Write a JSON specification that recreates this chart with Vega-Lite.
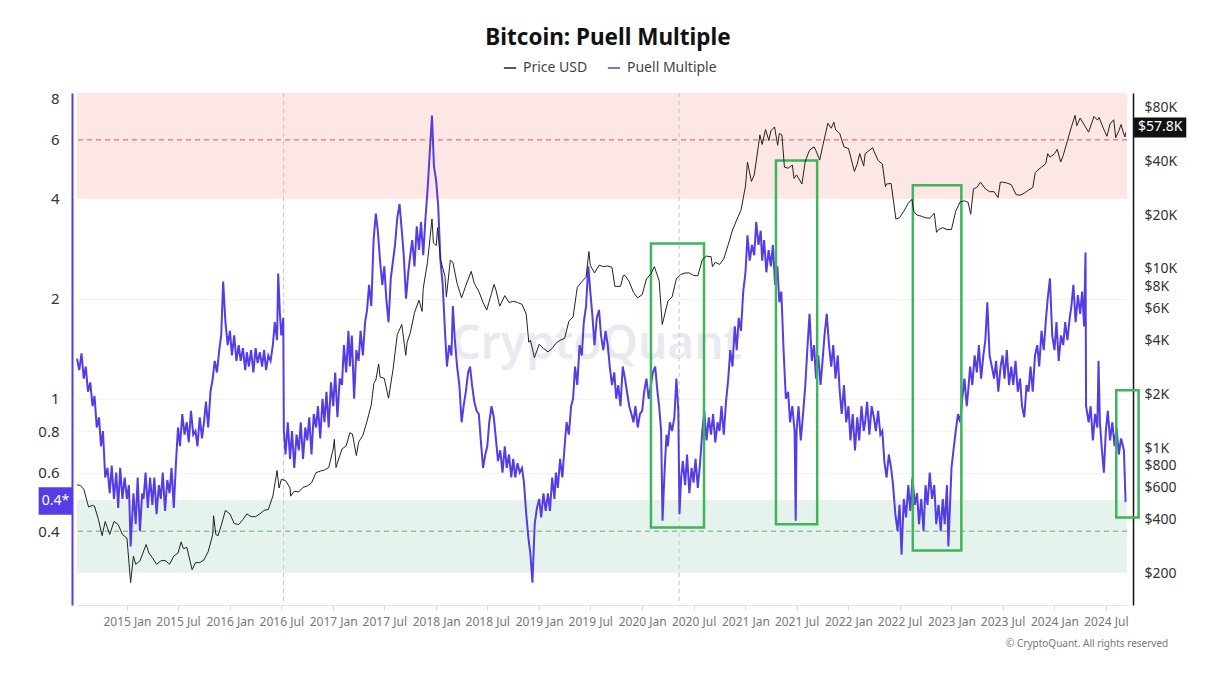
{
"$schema":"https://vega.github.io/schema/vega-lite/v6.json",
"width":1050,"height":512,
"autosize":{"type":"none"},
"padding":{"left":77,"top":93,"right":88,"bottom":74},
"background":"white",
"title":{"text":"Bitcoin: Puell Multiple","fontSize":22.5,"fontWeight":"bold","font":"Noto Sans","color":"#111111","offset":12,"dx":6},
"config":{"font":"Noto Sans","view":{"stroke":null}},
"datasets":{
"puell":[
{"d":"2014-07-08","v":1.32},{"d":"2014-07-16","v":1.22},{"d":"2014-07-24","v":1.37},
{"d":"2014-08-01","v":1.15},{"d":"2014-08-08","v":1.25},{"d":"2014-08-16","v":1.05},{"d":"2014-08-24","v":1.12},
{"d":"2014-09-01","v":0.95},{"d":"2014-09-08","v":1.02},{"d":"2014-09-16","v":0.82},{"d":"2014-09-24","v":0.88},
{"d":"2014-10-01","v":0.72},{"d":"2014-10-08","v":0.80},{"d":"2014-10-16","v":0.58},{"d":"2014-10-24","v":0.62},
{"d":"2014-11-01","v":0.52},{"d":"2014-11-08","v":0.63},{"d":"2014-11-16","v":0.50},{"d":"2014-11-24","v":0.60},
{"d":"2014-12-01","v":0.47},{"d":"2014-12-08","v":0.62},{"d":"2014-12-16","v":0.50},{"d":"2014-12-24","v":0.58},
{"d":"2015-01-01","v":0.50},{"d":"2015-01-08","v":0.55},{"d":"2015-01-14","v":0.36},{"d":"2015-01-24","v":0.52},
{"d":"2015-02-01","v":0.42},{"d":"2015-02-08","v":0.58},{"d":"2015-02-16","v":0.40},{"d":"2015-02-24","v":0.52},
{"d":"2015-03-01","v":0.50},{"d":"2015-03-08","v":0.60},{"d":"2015-03-16","v":0.47},{"d":"2015-03-24","v":0.58},
{"d":"2015-04-01","v":0.48},{"d":"2015-04-08","v":0.58},{"d":"2015-04-16","v":0.45},{"d":"2015-04-24","v":0.55},
{"d":"2015-05-01","v":0.50},{"d":"2015-05-08","v":0.60},{"d":"2015-05-16","v":0.46},{"d":"2015-05-24","v":0.57},
{"d":"2015-06-01","v":0.52},{"d":"2015-06-08","v":0.62},{"d":"2015-06-16","v":0.47},{"d":"2015-06-24","v":0.65},
{"d":"2015-07-01","v":0.82},{"d":"2015-07-08","v":0.72},{"d":"2015-07-16","v":0.90},{"d":"2015-07-24","v":0.78},
{"d":"2015-08-01","v":0.85},{"d":"2015-08-08","v":0.74},{"d":"2015-08-16","v":0.92},{"d":"2015-08-24","v":0.78},
{"d":"2015-09-01","v":0.80},{"d":"2015-09-08","v":0.72},{"d":"2015-09-16","v":0.88},{"d":"2015-09-24","v":0.76},
{"d":"2015-10-01","v":0.85},{"d":"2015-10-08","v":0.98},{"d":"2015-10-16","v":0.82},{"d":"2015-10-24","v":1.05},
{"d":"2015-11-01","v":1.15},{"d":"2015-11-08","v":1.30},{"d":"2015-11-16","v":1.20},{"d":"2015-11-24","v":1.40},
{"d":"2015-12-01","v":1.55},{"d":"2015-12-08","v":2.25},{"d":"2015-12-16","v":1.70},{"d":"2015-12-24","v":1.45},
{"d":"2016-01-01","v":1.60},{"d":"2016-01-08","v":1.35},{"d":"2016-01-16","v":1.55},{"d":"2016-01-24","v":1.30},
{"d":"2016-02-01","v":1.45},{"d":"2016-02-08","v":1.30},{"d":"2016-02-16","v":1.42},{"d":"2016-02-24","v":1.22},
{"d":"2016-03-01","v":1.38},{"d":"2016-03-08","v":1.25},{"d":"2016-03-16","v":1.40},{"d":"2016-03-24","v":1.20},
{"d":"2016-04-01","v":1.42},{"d":"2016-04-08","v":1.28},{"d":"2016-04-16","v":1.38},{"d":"2016-04-24","v":1.25},
{"d":"2016-05-01","v":1.40},{"d":"2016-05-08","v":1.22},{"d":"2016-05-16","v":1.35},{"d":"2016-05-24","v":1.30},
{"d":"2016-06-01","v":1.45},{"d":"2016-06-08","v":1.70},{"d":"2016-06-16","v":1.50},{"d":"2016-06-20","v":2.38},{"d":"2016-06-26","v":1.80},
{"d":"2016-07-01","v":1.55},{"d":"2016-07-08","v":1.75},{"d":"2016-07-10","v":0.80},{"d":"2016-07-16","v":0.68},{"d":"2016-07-24","v":0.85},
{"d":"2016-08-01","v":0.66},{"d":"2016-08-08","v":0.80},{"d":"2016-08-16","v":0.62},{"d":"2016-08-24","v":0.78},
{"d":"2016-09-01","v":0.70},{"d":"2016-09-08","v":0.85},{"d":"2016-09-16","v":0.66},{"d":"2016-09-24","v":0.82},
{"d":"2016-10-01","v":0.75},{"d":"2016-10-08","v":0.88},{"d":"2016-10-16","v":0.68},{"d":"2016-10-24","v":0.90},
{"d":"2016-11-01","v":0.82},{"d":"2016-11-08","v":0.95},{"d":"2016-11-16","v":0.76},{"d":"2016-11-24","v":1.00},
{"d":"2016-12-01","v":0.85},{"d":"2016-12-08","v":1.05},{"d":"2016-12-16","v":0.82},{"d":"2016-12-24","v":1.12},
{"d":"2017-01-01","v":0.95},{"d":"2017-01-08","v":1.20},{"d":"2017-01-16","v":0.88},{"d":"2017-01-24","v":1.15},
{"d":"2017-02-01","v":1.10},{"d":"2017-02-08","v":1.45},{"d":"2017-02-16","v":1.20},{"d":"2017-02-24","v":1.60},
{"d":"2017-03-01","v":1.25},{"d":"2017-03-08","v":1.55},{"d":"2017-03-16","v":1.00},{"d":"2017-03-24","v":1.40},
{"d":"2017-04-01","v":1.30},{"d":"2017-04-08","v":1.60},{"d":"2017-04-16","v":1.35},{"d":"2017-04-24","v":1.70},
{"d":"2017-05-01","v":1.85},{"d":"2017-05-08","v":2.20},{"d":"2017-05-16","v":1.90},{"d":"2017-05-24","v":3.00},
{"d":"2017-06-01","v":3.60},{"d":"2017-06-08","v":3.20},{"d":"2017-06-16","v":2.60},{"d":"2017-06-24","v":2.20},
{"d":"2017-07-01","v":2.50},{"d":"2017-07-08","v":2.00},{"d":"2017-07-16","v":1.70},{"d":"2017-07-24","v":2.30},
{"d":"2017-08-01","v":2.60},{"d":"2017-08-08","v":2.90},{"d":"2017-08-16","v":3.50},{"d":"2017-08-24","v":3.85},
{"d":"2017-09-01","v":3.20},{"d":"2017-09-08","v":2.70},{"d":"2017-09-16","v":2.00},{"d":"2017-09-24","v":2.40},
{"d":"2017-10-01","v":2.70},{"d":"2017-10-08","v":3.00},{"d":"2017-10-16","v":2.50},{"d":"2017-10-24","v":3.30},
{"d":"2017-11-01","v":2.80},{"d":"2017-11-08","v":3.40},{"d":"2017-11-16","v":2.70},{"d":"2017-11-24","v":3.50},
{"d":"2017-12-01","v":4.20},{"d":"2017-12-08","v":5.30},{"d":"2017-12-17","v":7.10},{"d":"2017-12-24","v":5.00},
{"d":"2018-01-01","v":4.50},{"d":"2018-01-08","v":3.80},{"d":"2018-01-16","v":2.60},{"d":"2018-01-24","v":2.20},
{"d":"2018-02-01","v":1.60},{"d":"2018-02-08","v":1.25},{"d":"2018-02-16","v":1.45},{"d":"2018-02-24","v":1.35},
{"d":"2018-03-01","v":1.90},{"d":"2018-03-08","v":1.50},{"d":"2018-03-16","v":1.25},{"d":"2018-03-24","v":1.10},
{"d":"2018-04-01","v":0.85},{"d":"2018-04-08","v":0.95},{"d":"2018-04-16","v":1.05},{"d":"2018-04-24","v":1.20},
{"d":"2018-05-01","v":1.25},{"d":"2018-05-08","v":1.10},{"d":"2018-05-16","v":0.98},{"d":"2018-05-24","v":0.92},
{"d":"2018-06-01","v":0.90},{"d":"2018-06-08","v":0.75},{"d":"2018-06-16","v":0.62},{"d":"2018-06-24","v":0.68},
{"d":"2018-07-01","v":0.72},{"d":"2018-07-08","v":0.85},{"d":"2018-07-16","v":0.95},{"d":"2018-07-24","v":0.88},
{"d":"2018-08-01","v":0.75},{"d":"2018-08-08","v":0.65},{"d":"2018-08-16","v":0.70},{"d":"2018-08-24","v":0.60},
{"d":"2018-09-01","v":0.72},{"d":"2018-09-08","v":0.62},{"d":"2018-09-16","v":0.68},{"d":"2018-09-24","v":0.58},
{"d":"2018-10-01","v":0.66},{"d":"2018-10-08","v":0.58},{"d":"2018-10-16","v":0.64},{"d":"2018-10-24","v":0.60},
{"d":"2018-11-01","v":0.62},{"d":"2018-11-08","v":0.56},{"d":"2018-11-16","v":0.45},{"d":"2018-11-24","v":0.38},
{"d":"2018-12-01","v":0.34},{"d":"2018-12-08","v":0.28},{"d":"2018-12-16","v":0.42},{"d":"2018-12-24","v":0.47},
{"d":"2019-01-01","v":0.50},{"d":"2019-01-08","v":0.44},{"d":"2019-01-16","v":0.52},{"d":"2019-01-24","v":0.46},
{"d":"2019-02-01","v":0.52},{"d":"2019-02-08","v":0.46},{"d":"2019-02-16","v":0.58},{"d":"2019-02-24","v":0.50},
{"d":"2019-03-01","v":0.60},{"d":"2019-03-08","v":0.54},{"d":"2019-03-16","v":0.66},{"d":"2019-03-24","v":0.58},
{"d":"2019-04-01","v":0.72},{"d":"2019-04-08","v":0.85},{"d":"2019-04-16","v":0.78},{"d":"2019-04-24","v":0.95},
{"d":"2019-05-01","v":1.00},{"d":"2019-05-08","v":1.25},{"d":"2019-05-16","v":1.10},{"d":"2019-05-24","v":1.45},
{"d":"2019-06-01","v":1.35},{"d":"2019-06-08","v":1.70},{"d":"2019-06-16","v":1.90},{"d":"2019-06-24","v":2.50},
{"d":"2019-07-01","v":2.10},{"d":"2019-07-08","v":1.80},{"d":"2019-07-16","v":1.45},{"d":"2019-07-24","v":1.75},
{"d":"2019-08-01","v":1.85},{"d":"2019-08-08","v":1.55},{"d":"2019-08-16","v":1.40},{"d":"2019-08-24","v":1.60},
{"d":"2019-09-01","v":1.45},{"d":"2019-09-08","v":1.25},{"d":"2019-09-16","v":1.10},{"d":"2019-09-24","v":1.20},
{"d":"2019-10-01","v":1.00},{"d":"2019-10-08","v":1.10},{"d":"2019-10-16","v":0.95},{"d":"2019-10-24","v":1.25},
{"d":"2019-11-01","v":1.15},{"d":"2019-11-08","v":1.05},{"d":"2019-11-16","v":0.95},{"d":"2019-11-24","v":0.90},
{"d":"2019-12-01","v":0.85},{"d":"2019-12-08","v":0.95},{"d":"2019-12-16","v":0.82},{"d":"2019-12-24","v":0.90},
{"d":"2020-01-01","v":0.92},{"d":"2020-01-08","v":1.05},{"d":"2020-01-16","v":1.15},{"d":"2020-01-24","v":1.00},
{"d":"2020-02-01","v":1.10},{"d":"2020-02-08","v":1.20},{"d":"2020-02-16","v":1.25},{"d":"2020-02-24","v":1.05},
{"d":"2020-03-01","v":0.95},{"d":"2020-03-08","v":0.80},{"d":"2020-03-13","v":0.43},{"d":"2020-03-20","v":0.60},{"d":"2020-03-27","v":0.78},
{"d":"2020-04-01","v":0.72},{"d":"2020-04-08","v":0.85},{"d":"2020-04-16","v":0.80},{"d":"2020-04-24","v":0.88},
{"d":"2020-05-01","v":1.15},{"d":"2020-05-08","v":0.92},{"d":"2020-05-12","v":0.45},{"d":"2020-05-18","v":0.58},{"d":"2020-05-24","v":0.65},
{"d":"2020-06-01","v":0.55},{"d":"2020-06-08","v":0.68},{"d":"2020-06-16","v":0.52},{"d":"2020-06-24","v":0.62},
{"d":"2020-07-01","v":0.56},{"d":"2020-07-08","v":0.66},{"d":"2020-07-16","v":0.54},{"d":"2020-07-24","v":0.64},
{"d":"2020-08-01","v":0.80},{"d":"2020-08-08","v":0.92},{"d":"2020-08-16","v":0.75},{"d":"2020-08-24","v":0.88},
{"d":"2020-09-01","v":0.78},{"d":"2020-09-08","v":0.90},{"d":"2020-09-16","v":0.74},{"d":"2020-09-24","v":0.85},
{"d":"2020-10-01","v":0.80},{"d":"2020-10-08","v":0.95},{"d":"2020-10-16","v":0.78},{"d":"2020-10-24","v":0.98},
{"d":"2020-11-01","v":1.15},{"d":"2020-11-08","v":1.40},{"d":"2020-11-16","v":1.25},{"d":"2020-11-24","v":1.65},
{"d":"2020-12-01","v":1.40},{"d":"2020-12-08","v":1.75},{"d":"2020-12-16","v":1.60},{"d":"2020-12-24","v":2.10},
{"d":"2021-01-01","v":2.40},{"d":"2021-01-08","v":3.10},{"d":"2021-01-16","v":2.60},{"d":"2021-01-24","v":2.90},
{"d":"2021-02-01","v":2.70},{"d":"2021-02-08","v":3.40},{"d":"2021-02-16","v":2.90},{"d":"2021-02-24","v":3.20},
{"d":"2021-03-01","v":2.60},{"d":"2021-03-08","v":3.00},{"d":"2021-03-16","v":2.40},{"d":"2021-03-24","v":2.80},
{"d":"2021-04-01","v":2.50},{"d":"2021-04-08","v":2.90},{"d":"2021-04-16","v":2.20},{"d":"2021-04-24","v":2.50},
{"d":"2021-05-01","v":1.95},{"d":"2021-05-08","v":2.10},{"d":"2021-05-16","v":1.40},{"d":"2021-05-24","v":1.00},
{"d":"2021-06-01","v":1.05},{"d":"2021-06-08","v":0.85},{"d":"2021-06-16","v":0.95},{"d":"2021-06-24","v":0.80},{"d":"2021-06-28","v":0.43},
{"d":"2021-07-01","v":0.80},{"d":"2021-07-08","v":0.95},{"d":"2021-07-16","v":0.75},{"d":"2021-07-24","v":0.90},
{"d":"2021-08-01","v":1.10},{"d":"2021-08-08","v":1.40},{"d":"2021-08-16","v":1.80},{"d":"2021-08-24","v":1.30},
{"d":"2021-09-01","v":1.45},{"d":"2021-09-08","v":1.15},{"d":"2021-09-16","v":1.35},{"d":"2021-09-24","v":1.10},
{"d":"2021-10-01","v":1.30},{"d":"2021-10-08","v":1.55},{"d":"2021-10-16","v":1.80},{"d":"2021-10-24","v":1.45},
{"d":"2021-11-01","v":1.25},{"d":"2021-11-08","v":1.45},{"d":"2021-11-16","v":1.15},{"d":"2021-11-24","v":1.35},
{"d":"2021-12-01","v":1.05},{"d":"2021-12-08","v":0.90},{"d":"2021-12-16","v":1.10},{"d":"2021-12-24","v":0.85},
{"d":"2022-01-01","v":0.95},{"d":"2022-01-08","v":0.75},{"d":"2022-01-16","v":0.90},{"d":"2022-01-24","v":0.70},
{"d":"2022-02-01","v":0.88},{"d":"2022-02-08","v":0.75},{"d":"2022-02-16","v":0.95},{"d":"2022-02-24","v":0.80},
{"d":"2022-03-01","v":0.85},{"d":"2022-03-08","v":0.98},{"d":"2022-03-16","v":0.78},{"d":"2022-03-24","v":0.95},
{"d":"2022-04-01","v":0.88},{"d":"2022-04-08","v":0.80},{"d":"2022-04-16","v":0.92},{"d":"2022-04-24","v":0.78},
{"d":"2022-05-01","v":0.80},{"d":"2022-05-08","v":0.65},{"d":"2022-05-16","v":0.58},{"d":"2022-05-24","v":0.68},
{"d":"2022-06-01","v":0.62},{"d":"2022-06-08","v":0.55},{"d":"2022-06-16","v":0.45},{"d":"2022-06-24","v":0.40},
{"d":"2022-07-01","v":0.48},{"d":"2022-07-08","v":0.34},{"d":"2022-07-16","v":0.50},{"d":"2022-07-24","v":0.44},
{"d":"2022-08-01","v":0.55},{"d":"2022-08-08","v":0.46},{"d":"2022-08-16","v":0.58},{"d":"2022-08-24","v":0.48},
{"d":"2022-09-01","v":0.52},{"d":"2022-09-08","v":0.42},{"d":"2022-09-16","v":0.50},{"d":"2022-09-24","v":0.40},
{"d":"2022-10-01","v":0.55},{"d":"2022-10-08","v":0.48},{"d":"2022-10-16","v":0.60},{"d":"2022-10-24","v":0.50},
{"d":"2022-11-01","v":0.55},{"d":"2022-11-08","v":0.42},{"d":"2022-11-16","v":0.48},{"d":"2022-11-24","v":0.40},
{"d":"2022-12-01","v":0.50},{"d":"2022-12-08","v":0.42},{"d":"2022-12-16","v":0.55},{"d":"2022-12-21","v":0.36},
{"d":"2023-01-01","v":0.62},{"d":"2023-01-08","v":0.70},{"d":"2023-01-16","v":0.80},{"d":"2023-01-24","v":0.90},
{"d":"2023-02-01","v":0.85},{"d":"2023-02-08","v":1.00},{"d":"2023-02-16","v":1.15},{"d":"2023-02-24","v":0.95},
{"d":"2023-03-01","v":1.05},{"d":"2023-03-08","v":1.25},{"d":"2023-03-16","v":1.10},{"d":"2023-03-24","v":1.35},
{"d":"2023-04-01","v":1.20},{"d":"2023-04-08","v":1.45},{"d":"2023-04-16","v":1.15},{"d":"2023-04-24","v":1.35},
{"d":"2023-05-01","v":1.50},{"d":"2023-05-08","v":1.95},{"d":"2023-05-16","v":1.35},{"d":"2023-05-24","v":1.25},
{"d":"2023-06-01","v":1.15},{"d":"2023-06-08","v":1.30},{"d":"2023-06-16","v":1.05},{"d":"2023-06-24","v":1.25},
{"d":"2023-07-01","v":1.35},{"d":"2023-07-08","v":1.15},{"d":"2023-07-16","v":1.40},{"d":"2023-07-24","v":1.10},
{"d":"2023-08-01","v":1.25},{"d":"2023-08-08","v":1.10},{"d":"2023-08-16","v":1.30},{"d":"2023-08-24","v":1.05},
{"d":"2023-09-01","v":1.15},{"d":"2023-09-08","v":0.95},{"d":"2023-09-16","v":0.88},{"d":"2023-09-24","v":1.10},
{"d":"2023-10-01","v":1.05},{"d":"2023-10-08","v":1.25},{"d":"2023-10-16","v":1.05},{"d":"2023-10-24","v":1.35},
{"d":"2023-11-01","v":1.45},{"d":"2023-11-08","v":1.25},{"d":"2023-11-16","v":1.60},{"d":"2023-11-24","v":1.40},
{"d":"2023-12-01","v":1.70},{"d":"2023-12-08","v":2.00},{"d":"2023-12-16","v":2.30},{"d":"2023-12-24","v":1.55},
{"d":"2024-01-01","v":1.40},{"d":"2024-01-08","v":1.70},{"d":"2024-01-16","v":1.30},{"d":"2024-01-24","v":1.55},
{"d":"2024-02-01","v":1.45},{"d":"2024-02-08","v":1.70},{"d":"2024-02-16","v":1.50},{"d":"2024-02-24","v":1.75},
{"d":"2024-03-01","v":1.90},{"d":"2024-03-08","v":2.20},{"d":"2024-03-16","v":1.70},{"d":"2024-03-24","v":2.05},
{"d":"2024-04-01","v":1.80},{"d":"2024-04-08","v":2.10},{"d":"2024-04-15","v":1.65},{"d":"2024-04-20","v":2.75},{"d":"2024-04-22","v":0.95},
{"d":"2024-05-01","v":0.85},{"d":"2024-05-08","v":0.95},{"d":"2024-05-16","v":0.75},{"d":"2024-05-24","v":0.90},
{"d":"2024-06-01","v":0.82},{"d":"2024-06-05","v":1.30},{"d":"2024-06-10","v":0.85},{"d":"2024-06-16","v":0.72},{"d":"2024-06-24","v":0.60},
{"d":"2024-07-01","v":0.80},{"d":"2024-07-08","v":0.92},{"d":"2024-07-16","v":0.75},{"d":"2024-07-24","v":0.85},
{"d":"2024-08-01","v":0.72},{"d":"2024-08-08","v":0.82},{"d":"2024-08-16","v":0.68},{"d":"2024-08-24","v":0.76},
{"d":"2024-09-03","v":0.70},{"d":"2024-09-09","v":0.49}
],
"price":[
{"d":"2014-07-08","p":625},{"d":"2014-07-20","p":620},{"d":"2014-08-01","p":590},{"d":"2014-08-18","p":470},{"d":"2014-09-01","p":480},{"d":"2014-09-08","p":475},{"d":"2014-09-22","p":400},{"d":"2014-10-05","p":325},{"d":"2014-10-16","p":390},{"d":"2014-11-01","p":330},{"d":"2014-11-16","p":390},{"d":"2014-12-01","p":375},{"d":"2014-12-16","p":330},
{"d":"2015-01-01","p":315},{"d":"2015-01-14","p":178},{"d":"2015-01-24","p":250},{"d":"2015-02-01","p":225},{"d":"2015-02-16","p":235},{"d":"2015-03-10","p":290},{"d":"2015-03-20","p":260},{"d":"2015-04-01","p":245},{"d":"2015-04-16","p":225},{"d":"2015-05-01","p":235},{"d":"2015-05-16","p":237},{"d":"2015-06-01","p":225},{"d":"2015-06-16","p":250},{"d":"2015-07-01","p":260},{"d":"2015-07-12","p":300},{"d":"2015-07-20","p":275},{"d":"2015-08-01","p":280},{"d":"2015-08-20","p":210},{"d":"2015-09-01","p":230},{"d":"2015-09-16","p":230},{"d":"2015-10-01","p":238},{"d":"2015-10-16","p":265},{"d":"2015-11-01","p":330},{"d":"2015-11-04","p":420},{"d":"2015-11-12","p":330},{"d":"2015-11-20","p":325},{"d":"2015-12-01","p":370},{"d":"2015-12-16","p":450},
{"d":"2016-01-01","p":430},{"d":"2016-01-16","p":380},{"d":"2016-02-01","p":375},{"d":"2016-02-16","p":400},{"d":"2016-03-01","p":430},{"d":"2016-03-16","p":415},{"d":"2016-04-01","p":415},{"d":"2016-04-16","p":430},{"d":"2016-05-01","p":450},{"d":"2016-05-16","p":455},{"d":"2016-06-01","p":540},{"d":"2016-06-16","p":750},{"d":"2016-06-23","p":600},{"d":"2016-07-01","p":670},{"d":"2016-07-16","p":660},{"d":"2016-08-01","p":600},{"d":"2016-08-03","p":540},{"d":"2016-08-16","p":575},{"d":"2016-09-01","p":570},{"d":"2016-09-16","p":605},{"d":"2016-10-01","p":615},{"d":"2016-10-16","p":640},{"d":"2016-11-01","p":730},{"d":"2016-11-16","p":745},{"d":"2016-12-01","p":755},{"d":"2016-12-16","p":780},
{"d":"2017-01-01","p":990},{"d":"2017-01-05","p":1120},{"d":"2017-01-11","p":780},{"d":"2017-01-16","p":830},{"d":"2017-02-01","p":990},{"d":"2017-02-16","p":1030},{"d":"2017-03-01","p":1220},{"d":"2017-03-10","p":1200},{"d":"2017-03-24","p":910},{"d":"2017-04-01","p":1080},{"d":"2017-04-16","p":1180},{"d":"2017-05-01","p":1420},{"d":"2017-05-16","p":1750},{"d":"2017-05-25","p":2300},{"d":"2017-06-01","p":2400},{"d":"2017-06-11","p":2950},{"d":"2017-06-16","p":2500},{"d":"2017-07-01","p":2450},{"d":"2017-07-16","p":1900},{"d":"2017-08-01","p":2750},{"d":"2017-08-16","p":4300},{"d":"2017-09-01","p":4900},{"d":"2017-09-15","p":3300},{"d":"2017-09-20","p":3900},{"d":"2017-10-01","p":4400},{"d":"2017-10-16","p":5700},{"d":"2017-11-01","p":6700},{"d":"2017-11-12","p":5800},{"d":"2017-11-16","p":7800},{"d":"2017-12-01","p":10900},{"d":"2017-12-17","p":19000},{"d":"2017-12-22","p":14000},
{"d":"2018-01-01","p":13500},{"d":"2018-01-06","p":17000},{"d":"2018-01-16","p":11300},{"d":"2018-02-01","p":9100},{"d":"2018-02-06","p":7000},{"d":"2018-02-20","p":11200},{"d":"2018-03-01","p":10900},{"d":"2018-03-16","p":8300},{"d":"2018-04-01","p":6900},{"d":"2018-04-16","p":8100},{"d":"2018-05-05","p":9700},{"d":"2018-05-16","p":8300},{"d":"2018-06-01","p":7500},{"d":"2018-06-16","p":6500},{"d":"2018-06-29","p":5900},{"d":"2018-07-16","p":7300},{"d":"2018-07-25","p":8200},{"d":"2018-08-01","p":7600},{"d":"2018-08-14","p":6200},{"d":"2018-09-01","p":7100},{"d":"2018-09-16","p":6500},{"d":"2018-10-01","p":6600},{"d":"2018-10-16","p":6500},{"d":"2018-11-01","p":6350},{"d":"2018-11-16","p":5600},{"d":"2018-11-25","p":3900},{"d":"2018-12-01","p":4000},{"d":"2018-12-15","p":3200},
{"d":"2019-01-01","p":3800},{"d":"2019-01-16","p":3600},{"d":"2019-02-01","p":3450},{"d":"2019-02-16","p":3600},{"d":"2019-03-01","p":3850},{"d":"2019-03-16","p":4000},{"d":"2019-04-01","p":4100},{"d":"2019-04-16","p":5100},{"d":"2019-05-01","p":5400},{"d":"2019-05-16","p":7900},{"d":"2019-06-01","p":8500},{"d":"2019-06-16","p":9000},{"d":"2019-06-26","p":12500},{"d":"2019-07-01","p":10500},{"d":"2019-07-16","p":9500},{"d":"2019-08-01","p":10500},{"d":"2019-08-16","p":10300},{"d":"2019-09-01","p":10400},{"d":"2019-09-16","p":10200},{"d":"2019-09-26","p":8000},{"d":"2019-10-16","p":8000},{"d":"2019-10-26","p":9200},{"d":"2019-11-01","p":9200},{"d":"2019-11-16","p":8500},{"d":"2019-12-01","p":7400},{"d":"2019-12-16","p":6900},
{"d":"2020-01-01","p":7200},{"d":"2020-01-16","p":8800},{"d":"2020-02-01","p":9400},{"d":"2020-02-13","p":10300},{"d":"2020-03-01","p":8600},{"d":"2020-03-12","p":4900},{"d":"2020-03-16","p":5200},{"d":"2020-04-01","p":6600},{"d":"2020-04-16","p":7000},{"d":"2020-05-01","p":8800},{"d":"2020-05-16","p":9300},{"d":"2020-06-01","p":9500},{"d":"2020-06-16","p":9500},{"d":"2020-07-01","p":9200},{"d":"2020-07-16","p":9150},{"d":"2020-08-01","p":11300},{"d":"2020-08-16","p":11800},{"d":"2020-09-01","p":11700},{"d":"2020-09-06","p":10300},{"d":"2020-09-16","p":10900},{"d":"2020-10-01","p":10600},{"d":"2020-10-16","p":11400},{"d":"2020-11-01","p":13700},{"d":"2020-11-16","p":16500},{"d":"2020-12-01","p":18800},{"d":"2020-12-16","p":21300},
{"d":"2021-01-01","p":29000},{"d":"2021-01-08","p":39500},{"d":"2021-01-22","p":30800},{"d":"2021-02-01","p":33500},{"d":"2021-02-16","p":49000},{"d":"2021-02-21","p":56000},{"d":"2021-03-01","p":49500},{"d":"2021-03-13","p":60000},{"d":"2021-03-25","p":52000},{"d":"2021-04-01","p":59000},{"d":"2021-04-14","p":62000},{"d":"2021-04-25","p":49000},{"d":"2021-05-01","p":57000},{"d":"2021-05-10","p":56000},{"d":"2021-05-19","p":37000},{"d":"2021-06-01","p":36500},{"d":"2021-06-16","p":38000},{"d":"2021-06-22","p":32000},{"d":"2021-07-01","p":33500},{"d":"2021-07-20","p":29800},{"d":"2021-08-01","p":40000},{"d":"2021-08-16","p":46000},{"d":"2021-09-01","p":48000},{"d":"2021-09-07","p":46000},{"d":"2021-09-21","p":40500},{"d":"2021-10-01","p":48000},{"d":"2021-10-20","p":65000},{"d":"2021-11-01","p":61000},{"d":"2021-11-10","p":66000},{"d":"2021-11-16","p":60000},{"d":"2021-12-01","p":57000},{"d":"2021-12-16","p":48000},
{"d":"2022-01-01","p":47000},{"d":"2022-01-22","p":35000},{"d":"2022-02-01","p":38500},{"d":"2022-02-10","p":44000},{"d":"2022-02-24","p":37500},{"d":"2022-03-01","p":44000},{"d":"2022-03-28","p":47500},{"d":"2022-04-01","p":45500},{"d":"2022-04-16","p":40300},{"d":"2022-05-01","p":38500},{"d":"2022-05-12","p":28800},{"d":"2022-05-16","p":29800},{"d":"2022-06-01","p":30000},{"d":"2022-06-18","p":19000},{"d":"2022-07-01","p":19300},{"d":"2022-07-16","p":21000},{"d":"2022-08-01","p":23300},{"d":"2022-08-14","p":24500},{"d":"2022-08-20","p":21000},{"d":"2022-09-01","p":20000},{"d":"2022-09-16","p":19700},{"d":"2022-10-01","p":19300},{"d":"2022-10-16","p":19200},{"d":"2022-11-01","p":20500},{"d":"2022-11-09","p":16000},{"d":"2022-11-16","p":16600},{"d":"2022-12-01","p":17000},{"d":"2022-12-16","p":16600},
{"d":"2023-01-01","p":16600},{"d":"2023-01-16","p":21000},{"d":"2023-02-01","p":23700},{"d":"2023-02-16","p":24000},{"d":"2023-03-01","p":23500},{"d":"2023-03-10","p":20200},{"d":"2023-03-20","p":28000},{"d":"2023-04-01","p":28500},{"d":"2023-04-14","p":30500},{"d":"2023-05-01","p":28000},{"d":"2023-05-16","p":27000},{"d":"2023-06-01","p":27000},{"d":"2023-06-15","p":25000},{"d":"2023-06-23","p":30500},{"d":"2023-07-01","p":30500},{"d":"2023-07-16","p":30200},{"d":"2023-08-01","p":29500},{"d":"2023-08-18","p":26000},{"d":"2023-09-01","p":25800},{"d":"2023-09-16","p":26500},{"d":"2023-10-01","p":27500},{"d":"2023-10-16","p":28500},{"d":"2023-10-25","p":34500},{"d":"2023-11-01","p":35400},{"d":"2023-11-16","p":37000},{"d":"2023-12-01","p":38700},{"d":"2023-12-08","p":44000},{"d":"2023-12-16","p":42000},
{"d":"2024-01-01","p":44000},{"d":"2024-01-11","p":46500},{"d":"2024-01-23","p":39500},{"d":"2024-02-01","p":43000},{"d":"2024-02-16","p":52000},{"d":"2024-03-01","p":62000},{"d":"2024-03-14","p":72000},{"d":"2024-03-20","p":63000},{"d":"2024-04-01","p":69500},{"d":"2024-04-16","p":63500},{"d":"2024-05-01","p":58000},{"d":"2024-05-20","p":71000},{"d":"2024-06-01","p":67700},{"d":"2024-06-07","p":70000},{"d":"2024-06-24","p":60000},{"d":"2024-07-05","p":55000},{"d":"2024-07-16","p":64500},{"d":"2024-07-29","p":68000},{"d":"2024-08-05","p":54000},{"d":"2024-08-16","p":59000},{"d":"2024-08-24","p":64000},{"d":"2024-09-01","p":57500},{"d":"2024-09-07","p":54500},{"d":"2024-09-09","p":57800}
],
"boxes":[
{"x1":"2020-02-01","x2":"2020-08-07","y1":0.41,"y2":2.93},
{"x1":"2021-04-19","x2":"2021-09-12","y1":0.42,"y2":5.2},
{"x1":"2022-08-17","x2":"2023-02-05","y1":0.35,"y2":4.38},
{"x1":"2024-08-07","x2":"2024-10-25","y1":0.44,"y2":1.06}
]
},
"layer":[
{"layer":[
{"data":{"values":[{"a":4,"b":8.3}]},"mark":{"type":"rect","color":"#fde7e5"},
 "encoding":{"y":{"field":"a","type":"quantitative","title":null,"scale":{"type":"log","domain":[0.24,8.3],"nice":false,"zero":false},
  "axis":{"orient":"left","values":[0.4,0.6,0.8,1,2,4,6,8],"format":"~g","labelFontSize":15,"labelColor":"#333333","domainColor":"#553ce6","domainWidth":2,"ticks":false,"labelPadding":13,"offset":5,"grid":true,"gridColor":"#f2f2f2","labelOverlap":false}},
  "y2":{"field":"b"}}},
{"data":{"values":[{"a":0.3,"b":0.496}]},"mark":{"type":"rect","color":"#e6f3ec"},
 "encoding":{"y":{"field":"a","type":"quantitative","title":null},"y2":{"field":"b"}}},
{"data":{"values":[{"t":"CryptoQuant","d":"2019-07-24","v":1.45}]},"mark":{"type":"text","fontSize":46,"fontWeight":600,"color":"#e2e2ec","opacity":0.75,"align":"center","baseline":"middle"},
 "encoding":{"x":{"field":"d","type":"temporal","title":null},"y":{"field":"v","type":"quantitative","title":null},"text":{"field":"t"}}},
{"data":{"values":[{"v":6}]},"mark":{"type":"rule","color":"#e0505a","strokeDash":[5,4],"strokeWidth":1},
 "encoding":{"y":{"field":"v","type":"quantitative","title":null}}},
{"data":{"values":[{"v":0.4}]},"mark":{"type":"rule","color":"#62ad74","strokeDash":[5,4],"strokeWidth":1},
 "encoding":{"y":{"field":"v","type":"quantitative","title":null}}},
{"data":{"values":[{"d":"2016-07-09"},{"d":"2020-05-11"}]},"mark":{"type":"rule","color":"#c4c4c4","strokeDash":[4,4],"strokeWidth":1},
 "encoding":{"x":{"field":"d","type":"temporal","title":null}}},
{"data":{"name":"puell"},"mark":{"type":"line","strokeWidth":2,"interpolate":"linear"},
 "encoding":{"x":{"field":"d","type":"temporal","title":null,"scale":{"domain":[{"year":2014,"month":7,"date":8},{"year":2024,"month":9,"date":14}]},
  "axis":{"format":"%Y %b","tickCount":{"interval":"month","step":6},"labelFontSize":12,"labelColor":"#777777","domainColor":"#e2e2e2","tickColor":"#d8d8d8","tickSize":5,"grid":false,"labelPadding":6,"labelFlush":false,"labelOverlap":false}},
  "y":{"field":"v","type":"quantitative","title":null},
  "color":{"datum":"Puell Multiple","type":"nominal","scale":{"domain":["Price USD","Puell Multiple"],"range":["#222222","#553ce6"]},
   "legend":{"title":null,"orient":"none","legendX":426,"legendY":-32,"direction":"horizontal","symbolType":"stroke","symbolStrokeWidth":1.5,"symbolSize":150,"labelFontSize":14,"labelColor":"#444444","columnPadding":16,"labelOffset":6}}}},
{"data":{"name":"boxes"},"mark":{"type":"rect","filled":false,"stroke":"#3db55a","strokeWidth":2.5,"clip":false},
 "encoding":{"x":{"field":"x1","type":"temporal","title":null},"x2":{"field":"x2"},"y":{"field":"y1","type":"quantitative","title":null},"y2":{"field":"y2"}}},
{"data":{"values":[{"x1":"2014-02-22","x2":"2014-06-21","y1":0.448,"y2":0.542}]},"mark":{"type":"rect","color":"#553ce6","clip":false},
 "encoding":{"x":{"field":"x1","type":"temporal","title":null},"x2":{"field":"x2"},"y":{"field":"y1","type":"quantitative","title":null},"y2":{"field":"y2"}}},
{"data":{"values":[{"t":"0.4*","d":"2014-04-23","v":0.493}]},"mark":{"type":"text","fontSize":14,"color":"white","align":"center","baseline":"middle","clip":false},
 "encoding":{"x":{"field":"d","type":"temporal","title":null},"y":{"field":"v","type":"quantitative","title":null},"text":{"field":"t"}}},
{"data":{"values":[{"t":"© CryptoQuant. All rights reserved","d":"2025-02-07","v":0.183}]},"mark":{"type":"text","fontSize":10,"color":"#777777","align":"right","baseline":"middle","clip":false},
 "encoding":{"x":{"field":"d","type":"temporal","title":null},"y":{"field":"v","type":"quantitative","title":null},"text":{"field":"t"}}}
]},
{"layer":[
{"data":{"name":"price"},"mark":{"type":"line","strokeWidth":1},
 "encoding":{"x":{"field":"d","type":"temporal","title":null},
  "y":{"field":"p","type":"quantitative","title":null,"scale":{"type":"log","domain":[133.4,95900],"nice":false,"zero":false},
   "axis":{"orient":"right","values":[200,400,600,800,1000,2000,4000,6000,8000,10000,20000,40000,80000],"labelExpr":"datum.value >= 1000 ? '$' + (datum.value/1000) + 'K' : '$' + datum.value","labelFontSize":14,"labelColor":"#333333","domainColor":"#111111","domainWidth":1.5,"ticks":false,"labelPadding":11,"offset":6,"grid":false,"labelOverlap":false}},
  "color":{"datum":"Price USD","type":"nominal"}}},
{"data":{"values":[{"x1":"2024-10-09","x2":"2025-04-12","y1":54200,"y2":70000}]},"mark":{"type":"rect","color":"#111111","clip":false},
 "encoding":{"x":{"field":"x1","type":"temporal","title":null},"x2":{"field":"x2"},"y":{"field":"y1","type":"quantitative","title":null},"y2":{"field":"y2"}}},
{"data":{"values":[{"t":"$57.8K","d":"2025-01-10","p":61600}]},"mark":{"type":"text","fontSize":14,"color":"white","align":"center","baseline":"middle","clip":false},
 "encoding":{"x":{"field":"d","type":"temporal","title":null},"y":{"field":"p","type":"quantitative","title":null},"text":{"field":"t"}}}
]}
],
"resolve":{"scale":{"y":"independent"},"axis":{"y":"independent"}}
}
